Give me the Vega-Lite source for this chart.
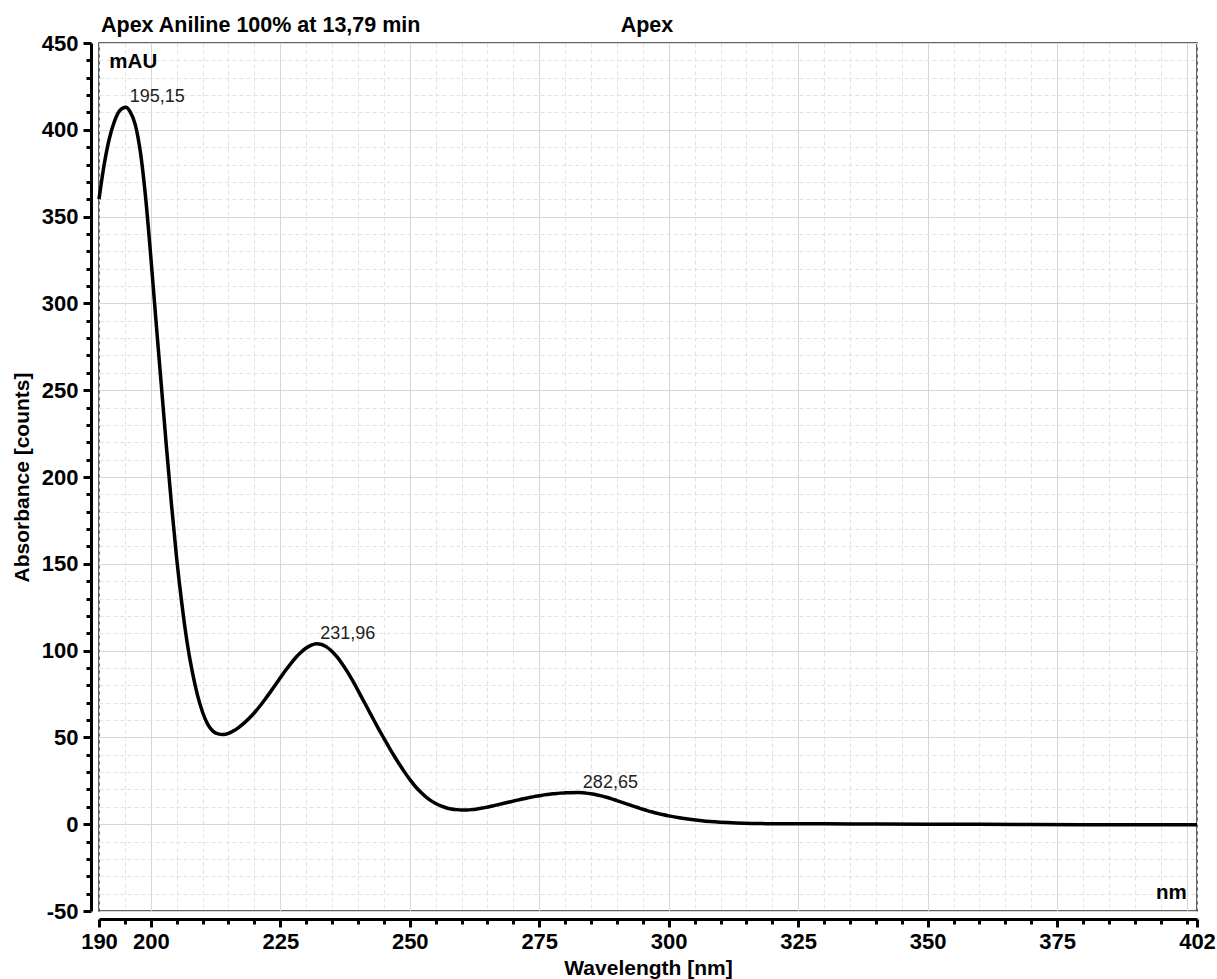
{
  "$schema": "https://vega.github.io/schema/vega-lite/v6.json",
  "width": 1098,
  "height": 868,
  "autosize": {"type": "none"},
  "padding": {"left": 99, "top": 43, "right": 20, "bottom": 68},
  "background": "white",
  "config": {
    "view": {"stroke": "#333333", "strokeWidth": 1.5},
    "font": "Liberation Sans"
  },
  "datasets": {
    "spectrum": [
      {"wavelength": 190, "absorbance": 360},
      {"wavelength": 191, "absorbance": 380},
      {"wavelength": 192, "absorbance": 395},
      {"wavelength": 193, "absorbance": 405},
      {"wavelength": 194, "absorbance": 411},
      {"wavelength": 195.15, "absorbance": 413},
      {"wavelength": 196, "absorbance": 410.5},
      {"wavelength": 197, "absorbance": 403},
      {"wavelength": 198, "absorbance": 387},
      {"wavelength": 199, "absorbance": 361},
      {"wavelength": 200, "absorbance": 327},
      {"wavelength": 201, "absorbance": 290},
      {"wavelength": 202, "absorbance": 254},
      {"wavelength": 203, "absorbance": 218},
      {"wavelength": 204, "absorbance": 184},
      {"wavelength": 205, "absorbance": 153},
      {"wavelength": 206, "absorbance": 127},
      {"wavelength": 207, "absorbance": 105},
      {"wavelength": 208, "absorbance": 88},
      {"wavelength": 209, "absorbance": 74.5},
      {"wavelength": 210, "absorbance": 64.5},
      {"wavelength": 211, "absorbance": 57.5},
      {"wavelength": 212, "absorbance": 53.6},
      {"wavelength": 213, "absorbance": 52},
      {"wavelength": 214, "absorbance": 51.6},
      {"wavelength": 215, "absorbance": 52.3},
      {"wavelength": 216, "absorbance": 53.8},
      {"wavelength": 217, "absorbance": 55.8},
      {"wavelength": 218, "absorbance": 58.2},
      {"wavelength": 219, "absorbance": 61},
      {"wavelength": 220, "absorbance": 64.2},
      {"wavelength": 221, "absorbance": 67.8},
      {"wavelength": 222, "absorbance": 71.7},
      {"wavelength": 223, "absorbance": 75.8},
      {"wavelength": 224, "absorbance": 80},
      {"wavelength": 225, "absorbance": 84.3},
      {"wavelength": 226, "absorbance": 88.5},
      {"wavelength": 227, "absorbance": 92.4},
      {"wavelength": 228, "absorbance": 96},
      {"wavelength": 229, "absorbance": 99},
      {"wavelength": 230, "absorbance": 101.5},
      {"wavelength": 231, "absorbance": 103.2},
      {"wavelength": 231.96, "absorbance": 104},
      {"wavelength": 233, "absorbance": 103.5},
      {"wavelength": 234, "absorbance": 102},
      {"wavelength": 235, "absorbance": 99.5},
      {"wavelength": 236, "absorbance": 96.2},
      {"wavelength": 237, "absorbance": 92.2},
      {"wavelength": 238, "absorbance": 87.6},
      {"wavelength": 239, "absorbance": 82.5},
      {"wavelength": 240, "absorbance": 77.1},
      {"wavelength": 241, "absorbance": 71.5},
      {"wavelength": 242, "absorbance": 65.9},
      {"wavelength": 243, "absorbance": 60.3},
      {"wavelength": 244, "absorbance": 54.8},
      {"wavelength": 245, "absorbance": 49.5},
      {"wavelength": 246, "absorbance": 44.3},
      {"wavelength": 247, "absorbance": 39.3},
      {"wavelength": 248, "absorbance": 34.5},
      {"wavelength": 249, "absorbance": 30},
      {"wavelength": 250, "absorbance": 25.8},
      {"wavelength": 251, "absorbance": 22},
      {"wavelength": 252, "absorbance": 18.8},
      {"wavelength": 253, "absorbance": 16},
      {"wavelength": 254, "absorbance": 13.7},
      {"wavelength": 255, "absorbance": 11.9},
      {"wavelength": 256, "absorbance": 10.5},
      {"wavelength": 257, "absorbance": 9.5},
      {"wavelength": 258, "absorbance": 8.8},
      {"wavelength": 259, "absorbance": 8.4},
      {"wavelength": 260, "absorbance": 8.2},
      {"wavelength": 261, "absorbance": 8.2},
      {"wavelength": 262, "absorbance": 8.4},
      {"wavelength": 263, "absorbance": 8.8},
      {"wavelength": 264, "absorbance": 9.3},
      {"wavelength": 265, "absorbance": 9.9},
      {"wavelength": 266, "absorbance": 10.5},
      {"wavelength": 267, "absorbance": 11.2},
      {"wavelength": 268, "absorbance": 11.9},
      {"wavelength": 269, "absorbance": 12.6},
      {"wavelength": 270, "absorbance": 13.3},
      {"wavelength": 271, "absorbance": 14},
      {"wavelength": 272, "absorbance": 14.7},
      {"wavelength": 273, "absorbance": 15.3},
      {"wavelength": 274, "absorbance": 15.9},
      {"wavelength": 275, "absorbance": 16.4},
      {"wavelength": 276, "absorbance": 16.9},
      {"wavelength": 277, "absorbance": 17.3},
      {"wavelength": 278, "absorbance": 17.6},
      {"wavelength": 279, "absorbance": 17.9},
      {"wavelength": 280, "absorbance": 18.05},
      {"wavelength": 281, "absorbance": 18.15},
      {"wavelength": 282.65, "absorbance": 18.2},
      {"wavelength": 284, "absorbance": 17.9},
      {"wavelength": 285, "absorbance": 17.5},
      {"wavelength": 286, "absorbance": 17},
      {"wavelength": 287, "absorbance": 16.3},
      {"wavelength": 288, "absorbance": 15.5},
      {"wavelength": 289, "absorbance": 14.6},
      {"wavelength": 290, "absorbance": 13.6},
      {"wavelength": 291, "absorbance": 12.6},
      {"wavelength": 292, "absorbance": 11.6},
      {"wavelength": 293, "absorbance": 10.6},
      {"wavelength": 294, "absorbance": 9.6},
      {"wavelength": 295, "absorbance": 8.6},
      {"wavelength": 296, "absorbance": 7.7},
      {"wavelength": 297, "absorbance": 6.9},
      {"wavelength": 298, "absorbance": 6.1},
      {"wavelength": 299, "absorbance": 5.4},
      {"wavelength": 300, "absorbance": 4.8},
      {"wavelength": 302, "absorbance": 3.7},
      {"wavelength": 304, "absorbance": 2.8},
      {"wavelength": 306, "absorbance": 2.1},
      {"wavelength": 308, "absorbance": 1.5},
      {"wavelength": 310, "absorbance": 1.1},
      {"wavelength": 313, "absorbance": 0.7},
      {"wavelength": 316, "absorbance": 0.45},
      {"wavelength": 320, "absorbance": 0.3},
      {"wavelength": 330, "absorbance": 0.2},
      {"wavelength": 340, "absorbance": 0.1},
      {"wavelength": 350, "absorbance": 0.0},
      {"wavelength": 360, "absorbance": -0.1},
      {"wavelength": 370, "absorbance": -0.2},
      {"wavelength": 380, "absorbance": -0.3},
      {"wavelength": 390, "absorbance": -0.3},
      {"wavelength": 402, "absorbance": -0.3}
    ],
    "peaks": [
      {"wavelength": 195.15, "absorbance": 413, "label": "195,15"},
      {"wavelength": 231.96, "absorbance": 104, "label": "231,96"},
      {"wavelength": 282.65, "absorbance": 18.2, "label": "282,65"}
    ],
    "notesTitle": [
      {"wavelength": 190, "absorbance": 456.4, "label": "Apex Aniline 100% at 13,79 min"}
    ],
    "notesCenter": [
      {"wavelength": 295.8, "absorbance": 456.4, "label": "Apex"}
    ],
    "notesLeft": [
      {"wavelength": 192, "absorbance": 435.6, "label": "mAU"}
    ],
    "notesRight": [
      {"wavelength": 400, "absorbance": -43, "label": "nm"}
    ]
  },
  "encoding": {
    "x": {
      "field": "wavelength",
      "type": "quantitative",
      "scale": {"domain": [190, 402], "nice": false, "zero": false},
      "axis": {
        "title": "Wavelength [nm]",
        "titleFont": "Liberation Sans",
        "titleFontSize": 21,
        "titleFontWeight": "bold",
        "titleColor": "#000000",
        "titlePadding": 5,
        "values": [190, 195, 200, 205, 210, 215, 220, 225, 230, 235, 240, 245, 250, 255, 260, 265, 270, 275, 280, 285, 290, 295, 300, 305, 310, 315, 320, 325, 330, 335, 340, 345, 350, 355, 360, 365, 370, 375, 380, 385, 390, 395, 400, 402],
        "labelExpr": "((datum.value % 25 === 0 && datum.value !== 400) || datum.value === 190 || datum.value === 402) ? datum.label : ''",
        "labelFont": "Liberation Sans",
        "labelFontSize": 22,
        "labelFontWeight": "bold",
        "labelColor": "#000000",
        "labelOverlap": false,
        "labelFlush": false,
        "labelPadding": 4,
        "offset": 8,
        "domainColor": "#000000",
        "domainWidth": 3,
        "tickColor": "#000000",
        "tickWidth": 3,
        "tickSize": {"condition": {"test": "(datum.value % 25 === 0 && datum.value !== 400) || datum.value === 190 || datum.value === 402", "value": 8}, "value": 5},
        "grid": true,
        "gridColor": {"condition": {"test": "datum.value % 25 === 0", "value": "#d6d6d6"}, "value": "#e2e2e2"},
        "gridDash": {"condition": {"test": "datum.value % 25 === 0", "value": []}, "value": [4, 3]},
        "gridWidth": 1
      }
    },
    "y": {
      "field": "absorbance",
      "type": "quantitative",
      "scale": {"domain": [-50, 450], "nice": false, "zero": false},
      "axis": {
        "title": "Absorbance [counts]",
        "titleFont": "Liberation Sans",
        "titleFontSize": 21,
        "titleFontWeight": "bold",
        "titleColor": "#000000",
        "titlePadding": 9,
        "values": [-50, -40, -30, -20, -10, 0, 10, 20, 30, 40, 50, 60, 70, 80, 90, 100, 110, 120, 130, 140, 150, 160, 170, 180, 190, 200, 210, 220, 230, 240, 250, 260, 270, 280, 290, 300, 310, 320, 330, 340, 350, 360, 370, 380, 390, 400, 410, 420, 430, 440, 450],
        "labelExpr": "datum.value % 50 === 0 ? (datum.value < 0 ? '-' + abs(datum.value) : '' + datum.value) : ''",
        "labelFont": "Liberation Sans",
        "labelFontSize": 22,
        "labelFontWeight": "bold",
        "labelColor": "#000000",
        "labelOverlap": false,
        "labelFlush": false,
        "labelPadding": 5,
        "offset": 8,
        "domainColor": "#000000",
        "domainWidth": 3,
        "tickColor": "#000000",
        "tickWidth": 3,
        "tickSize": {"condition": {"test": "datum.value % 50 === 0", "value": 8}, "value": 5},
        "grid": true,
        "gridColor": {"condition": {"test": "datum.value % 50 === 0", "value": "#d6d6d6"}, "value": "#e2e2e2"},
        "gridDash": {"condition": {"test": "datum.value % 50 === 0", "value": []}, "value": [4, 3]},
        "gridWidth": 1
      }
    }
  },
  "layer": [
    {
      "data": {"name": "spectrum"},
      "mark": {"type": "line", "color": "#000000", "strokeWidth": 3.5, "interpolate": "monotone"}
    },
    {
      "data": {"name": "peaks"},
      "mark": {"type": "text", "align": "left", "baseline": "alphabetic", "dx": 4, "dy": -5, "font": "Liberation Sans", "fontSize": 18, "color": "#222222"},
      "encoding": {"text": {"field": "label"}}
    },
    {
      "data": {"name": "notesTitle"},
      "mark": {"type": "text", "align": "left", "baseline": "alphabetic", "dx": 2, "font": "Liberation Sans", "fontSize": 21.5, "fontWeight": "bold", "color": "#000000"},
      "encoding": {"text": {"field": "label"}}
    },
    {
      "data": {"name": "notesCenter"},
      "mark": {"type": "text", "align": "center", "baseline": "alphabetic", "font": "Liberation Sans", "fontSize": 21.5, "fontWeight": "bold", "color": "#000000"},
      "encoding": {"text": {"field": "label"}}
    },
    {
      "data": {"name": "notesLeft"},
      "mark": {"type": "text", "align": "left", "baseline": "alphabetic", "font": "Liberation Sans", "fontSize": 20.5, "fontWeight": "bold", "color": "#000000"},
      "encoding": {"text": {"field": "label"}}
    },
    {
      "data": {"name": "notesRight"},
      "mark": {"type": "text", "align": "right", "baseline": "alphabetic", "font": "Liberation Sans", "fontSize": 20.5, "fontWeight": "bold", "color": "#000000"},
      "encoding": {"text": {"field": "label"}}
    }
  ]
}
